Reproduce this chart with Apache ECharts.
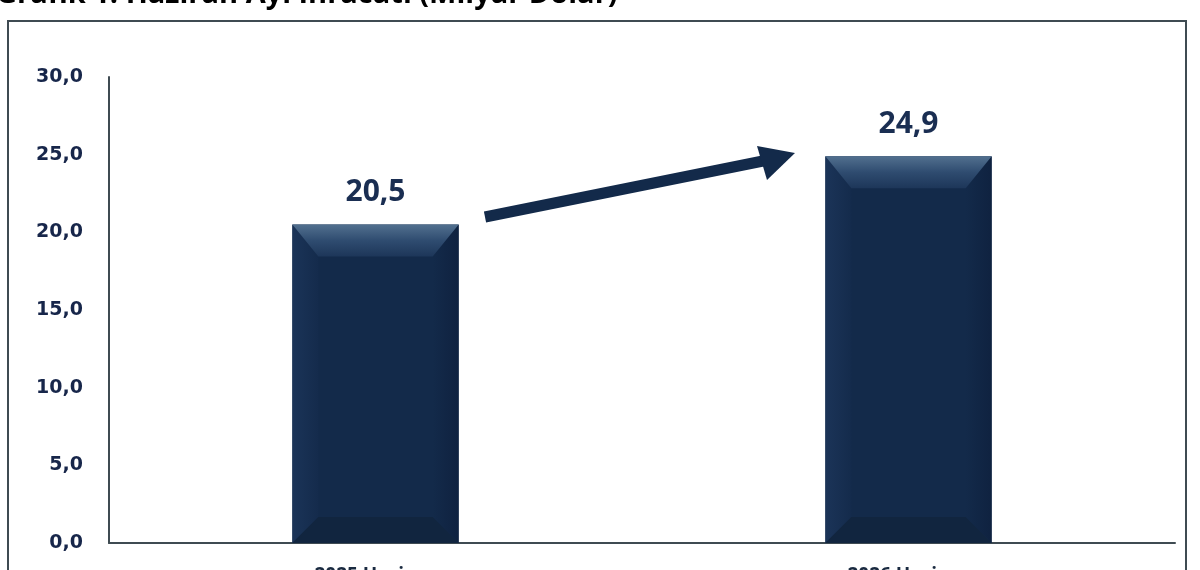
<!DOCTYPE html>
<html>
<head>
<meta charset="utf-8">
<script src="https://cdn.jsdelivr.net/npm/echarts@6/dist/echarts.min.js"></script>
<style>
html,body{margin:0;padding:0;background:#fff;}
#main{width:1200px;height:570px;}
</style>
</head>
<body>
<div id="main"></div>
<script>
// veriler
var kategoriler = ['2025 Haziran', '2026 Haziran'];
var ihracat = [20.5, 24.9];
var yTikler = [0, 5, 10, 15, 20, 25, 30];

function virgul(v) {
    return v.toFixed(1).replace('.', ',');
}

// bevelli sütun çizimi
function sutunCiz(params, api) {
    var x = api.value(0);
    var v = api.value(1);
    var ust = api.coord([x, v]);
    var alt = api.coord([x, 0]);
    var w = api.size([1, 0])[0] * 0.312;
    var x0 = ust[0] - w / 2, x1 = ust[0] + w / 2;
    var y0 = ust[1], y1 = alt[1];
    var bt = 32, bs = 26, bb = 26;
    return {
        type: 'group',
        children: [
            {type: 'rect', shape: {x: x0, y: y0, width: w, height: y1 - y0},
             style: {fill: '#132a4a'}},
            // sol kenar
            {type: 'polygon', shape: {points: [[x0, y0], [x0 + bs, y0 + bt], [x0 + bs, y1 - bb], [x0, y1]]},
             style: {fill: new echarts.graphic.LinearGradient(0, 0, 1, 0, [
                 {offset: 0, color: '#1b3458'}, {offset: 1, color: '#142b4c'}])}},
            // sağ kenar
            {type: 'polygon', shape: {points: [[x1, y0], [x1 - bs, y0 + bt], [x1 - bs, y1 - bb], [x1, y1]]},
             style: {fill: new echarts.graphic.LinearGradient(1, 0, 0, 0, [
                 {offset: 0, color: '#0f2240'}, {offset: 1, color: '#132a4a'}])}},
            // alt kenar
            {type: 'polygon', shape: {points: [[x0, y1], [x0 + bs, y1 - bb], [x1 - bs, y1 - bb], [x1, y1]]},
             style: {fill: '#11253f'}},
            // üst kenar
            {type: 'polygon', shape: {points: [[x0, y0], [x1, y0], [x1 - bs, y0 + bt], [x0 + bs, y0 + bt]]},
             style: {fill: new echarts.graphic.LinearGradient(0, 0, 0, 1, [
                 {offset: 0, color: '#52708f'}, {offset: 0.5, color: '#2f4c70'}, {offset: 1, color: '#1d3659'}])}},
            // etiket
            {type: 'text', x: ust[0], y: y0 - 32,
             style: {text: virgul(v), fill: '#1a2e52', font: 'bold 30px "Open Sans", sans-serif',
                     align: 'center', verticalAlign: 'middle'}}
        ]
    };
}

var myChart = echarts.init(document.getElementById('main'), null, {renderer: 'canvas'});
var veri = [];
for (var i = 0; i < kategoriler.length; i++) {
    veri.push([i, ihracat[i]]);
}

option = {
    animation: false,
    backgroundColor: '#ffffff',
    grid: {left: 109, right: 25, top: 77, bottom: 27, outerBoundsMode: 'none', containLabel: false},
    graphic: [
        {type: 'rect', shape: {x: 8, y: 21, width: 1178, height: 600},
         style: {fill: 'none', stroke: '#3f4b52', lineWidth: 2}, z: -1},
        {type: 'text', x: -4, y: 9,
         style: {text: 'Grafik 1: Haziran Ayı İhracatı (Milyar Dolar)', fill: '#000',
                 font: 'bold 29px "Open Sans", sans-serif', verticalAlign: 'bottom'}},
        // artış oku
        {type: 'line', shape: {x1: 485, y1: 217, x2: 768, y2: 160},
         style: {stroke: '#132a4a', lineWidth: 11}},
        {type: 'polygon', shape: {points: [[795, 153], [757, 146], [767, 180]]},
         style: {fill: '#132a4a'}}
    ],
    xAxis: {
        type: 'category',
        data: kategoriler,
        axisLine: {lineStyle: {color: '#3f4b52', width: 2}},
        axisTick: {show: false},
        axisLabel: {margin: 23, color: '#1a2a40', fontWeight: 'bold', fontSize: 19,
                    fontFamily: '"Open Sans", sans-serif'}
    },
    yAxis: {
        type: 'value',
        min: yTikler[0],
        max: yTikler[yTikler.length - 1],
        interval: 5,
        axisLine: {show: true, lineStyle: {color: '#3f4b52', width: 2}},
        axisTick: {show: false},
        splitLine: {show: false},
        axisLabel: {margin: 26, color: '#17264a', fontWeight: 'bold', fontSize: 19,
                    fontFamily: '"DejaVu Sans", sans-serif',
                    formatter: function (v) { return virgul(v); }}
    },
    series: [{
        name: 'İhracat',
        type: 'custom',
        renderItem: sutunCiz,
        encode: {x: 0, y: 1},
        data: veri
    }]
};
myChart.setOption(option);
</script>
</body>
</html>
